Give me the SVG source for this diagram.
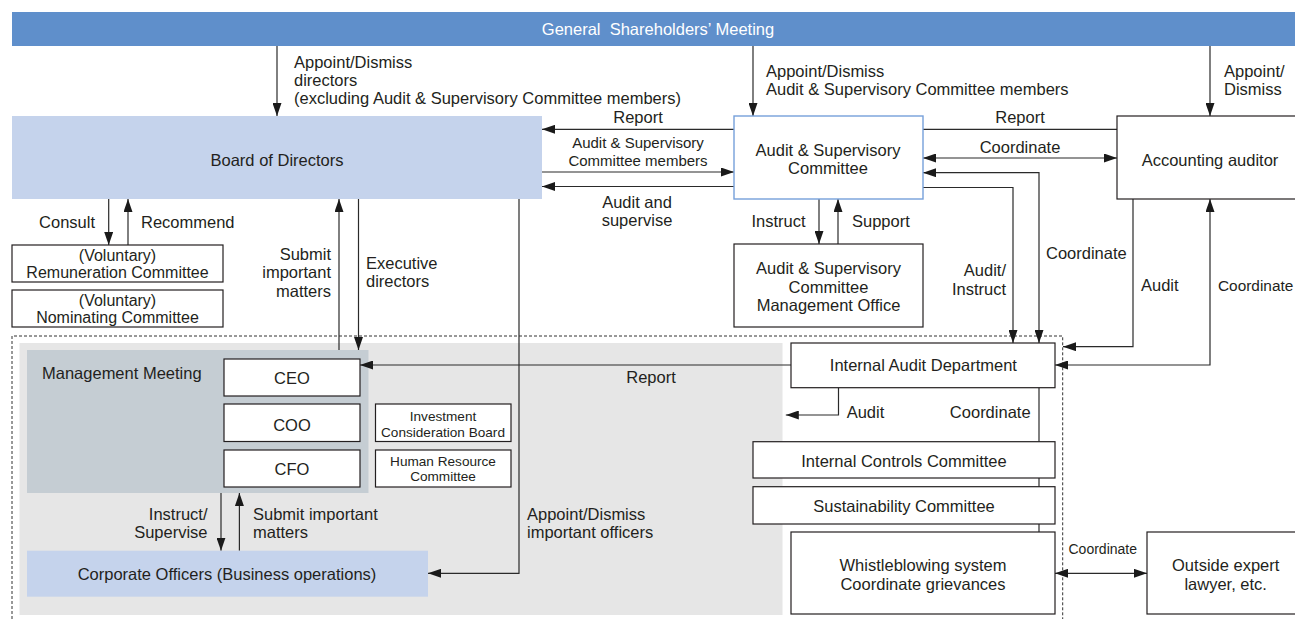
<svg xmlns="http://www.w3.org/2000/svg" width="1295" height="619" viewBox="0 0 1295 619">
<defs>
<marker id="ah" markerUnits="userSpaceOnUse" markerWidth="13" markerHeight="9" refX="13" refY="4.5" orient="auto-start-reverse" viewBox="0 0 13 9">
<path d="M0,0 L13,4.5 L0,9 z" fill="#1a1a1a"/>
</marker>
<style>
text{font-family:"Liberation Sans",Arial,sans-serif;font-size:16.5px;fill:#231F20}
.c{text-anchor:middle}
.r{text-anchor:end}
.s16{font-size:16px}
.s15{font-size:15px}
.s14{font-size:14px}
.s13{font-size:13.6px}
.box{fill:#fff;stroke:#231F20;stroke-width:1.2}
.blue{fill:#C5D3EC}
.ln{fill:none;stroke:#2a2a2a;stroke-width:1.2}
.e{marker-end:url(#ah)}
.b{marker-start:url(#ah);marker-end:url(#ah)}
</style>
</defs>

<!-- background zones -->
<g id="zones">
<rect x="19.5" y="343" width="763" height="272" fill="#E6E6E6"/>
<rect x="27" y="350" width="341.5" height="143" fill="#C5CDD3"/>
<path d="M12,619 V336 H1062.7 V619" fill="none" stroke="#333" stroke-width="1" stroke-dasharray="3,2"/>
</g>

<!-- connectors -->
<g id="connectors">
<path class="ln e" d="M277,46 V116"/>
<path class="ln e" d="M753,46 V116"/>
<path class="ln e" d="M1210,46 V116"/>
<path class="ln e" d="M1117,129.3 H542"/>
<path class="ln e" d="M542,172 H734"/>
<path class="ln e" d="M734,186.5 H542"/>
<path class="ln b" d="M923,158 H1117"/>
<path class="ln b" d="M923,172.7 H1039 V343"/>
<path class="ln e" d="M923,187.5 H1013 V343"/>
<path class="ln e" d="M1133,199 V346.7 H1063"/>
<path class="ln b" d="M1210,199 V365 H1055"/>
<path class="ln e" d="M108.7,199 V245"/>
<path class="ln e" d="M128,245 V199"/>
<path class="ln e" d="M339,350 V199"/>
<path class="ln e" d="M358.5,199 V350"/>
<path class="ln e" d="M519,199 V573.3 H428"/>
<path class="ln e" d="M819,199 V244"/>
<path class="ln e" d="M838,244 V199"/>
<path class="ln e" d="M221,493 V550.7"/>
<path class="ln e" d="M239.4,550.7 V493"/>
<path class="ln e" d="M791,365 H360"/>
<path class="ln e" d="M838.5,387.7 V415 H785.8"/>
<path class="ln" d="M1039,387.7 V532"/>
<path class="ln b" d="M1055,573.3 H1147"/>
</g>

<!-- connector labels -->
<g id="labels">
<text x="294" y="68">Appoint/Dismiss</text>
<text x="294" y="86">directors</text>
<text x="294" y="104">(excluding Audit &amp; Supervisory Committee members)</text>
<text x="766" y="77">Appoint/Dismiss</text>
<text x="766" y="95">Audit &amp; Supervisory Committee members</text>
<text x="1224" y="77">Appoint/</text>
<text x="1224" y="95">Dismiss</text>
<text class="c" x="638" y="123">Report</text>
<text class="c" x="1020" y="123">Report</text>
<text class="c s15" x="638" y="148">Audit &amp; Supervisory</text>
<text class="c s15" x="638" y="166">Committee members</text>
<text class="c" x="637" y="208">Audit and</text>
<text class="c" x="637" y="226">supervise</text>
<text class="c" x="1020" y="153">Coordinate</text>
<text class="r" x="95" y="228">Consult</text>
<text x="141" y="228">Recommend</text>
<text class="r" x="331" y="260">Submit</text>
<text class="r" x="331" y="278">important</text>
<text class="r" x="331" y="296.5">matters</text>
<text x="366" y="269">Executive</text>
<text x="366" y="287">directors</text>
<text class="r" x="805.5" y="226.5">Instruct</text>
<text x="852" y="226.5">Support</text>
<text class="r" x="1006" y="276">Audit/</text>
<text class="r" x="1006" y="295">Instruct</text>
<text x="1046" y="259">Coordinate</text>
<text x="1141" y="290.5">Audit</text>
<text x="1218" y="290.5" style="font-size:15.4px">Coordinate</text>
<text class="c" x="651" y="383">Report</text>
<text x="846.7" y="418">Audit</text>
<text class="r" x="1030.6" y="418">Coordinate</text>
<text class="r" x="207.5" y="520">Instruct/</text>
<text class="r" x="207.5" y="537.7">Supervise</text>
<text x="253" y="520">Submit important</text>
<text x="253" y="537.7">matters</text>
<text x="527" y="520">Appoint/Dismiss</text>
<text x="527" y="537.7">important officers</text>
<text class="s14" x="1068.5" y="554">Coordinate</text>
</g>

<!-- nodes -->
<g id="gsm">
<rect x="12" y="12" width="1283" height="34" fill="#5F8FCB"/>
<text class="c" x="658" y="35" style="fill:#fff">General&#160; Shareholders’ Meeting</text>
</g>
<g id="board">
<rect class="blue" x="12" y="116" width="530" height="83"/>
<text class="c" x="277" y="166">Board of Directors</text>
</g>
<g id="asc">
<rect x="734" y="116" width="189" height="83" fill="#fff" stroke="#76A0DA" stroke-width="1.4"/>
<text class="c" x="828" y="156">Audit &amp; Supervisory</text>
<text class="c" x="828" y="174">Committee</text>
</g>
<g id="accounting-auditor">
<rect class="box" x="1117" y="116" width="193" height="83"/>
<text class="c" x="1210" y="166">Accounting auditor</text>
</g>
<g id="remuneration">
<rect class="box" x="12" y="245" width="211" height="37"/>
<text class="c s16" x="117.5" y="261">(Voluntary)</text>
<text class="c s16" x="117.5" y="277.5">Remuneration Committee</text>
</g>
<g id="nominating">
<rect class="box" x="12" y="290" width="211" height="37"/>
<text class="c s16" x="117.5" y="306">(Voluntary)</text>
<text class="c s16" x="117.5" y="322.5">Nominating Committee</text>
</g>
<g id="asc-office">
<rect class="box" x="734" y="244" width="189" height="83"/>
<text class="c" x="828.5" y="274">Audit &amp; Supervisory</text>
<text class="c" x="828.5" y="292.5">Committee</text>
<text class="c" x="828.5" y="311">Management Office</text>
</g>
<g id="management-meeting">
<text x="42" y="379">Management Meeting</text>
</g>
<g id="ceo">
<rect class="box" x="224" y="359" width="136" height="37"/>
<text class="c" x="292" y="384">CEO</text>
</g>
<g id="coo">
<rect class="box" x="224" y="404" width="136" height="37.5"/>
<text class="c" x="292" y="430.5">COO</text>
</g>
<g id="cfo">
<rect class="box" x="224" y="450" width="136" height="37"/>
<text class="c" x="292" y="475">CFO</text>
</g>
<g id="investment">
<rect class="box" x="375.5" y="404" width="135.5" height="37.5"/>
<text class="c s13" x="443" y="421">Investment</text>
<text class="c s13" x="443" y="436.5">Consideration Board</text>
</g>
<g id="human-resource">
<rect class="box" x="375.5" y="450" width="135.5" height="37"/>
<text class="c s13" x="443" y="466">Human Resource</text>
<text class="c s13" x="443" y="481">Committee</text>
</g>
<g id="corporate-officers">
<rect class="blue" x="27" y="550.7" width="401" height="46"/>
<text class="c" x="227" y="580">Corporate Officers (Business operations)</text>
</g>
<g id="internal-audit">
<rect class="box" x="791" y="343" width="264" height="44.7"/>
<text class="c" x="923.4" y="370.7">Internal Audit Department</text>
</g>
<g id="internal-controls">
<rect class="box" x="753" y="441.7" width="302" height="36.3"/>
<text class="c" x="904" y="466.7">Internal Controls Committee</text>
</g>
<g id="sustainability">
<rect class="box" x="753" y="486.7" width="302" height="37.3"/>
<text class="c" x="904" y="511.7">Sustainability Committee</text>
</g>
<g id="whistleblowing">
<rect class="box" x="791" y="532" width="264" height="82"/>
<text class="c" x="923" y="571">Whistleblowing system</text>
<text class="c" x="923" y="590">Coordinate grievances</text>
</g>
<g id="outside-expert">
<rect class="box" x="1147" y="532" width="160" height="82"/>
<text class="c" x="1225.7" y="571">Outside expert</text>
<text class="c" x="1225.7" y="590">lawyer, etc.</text>
</g>
</svg>
